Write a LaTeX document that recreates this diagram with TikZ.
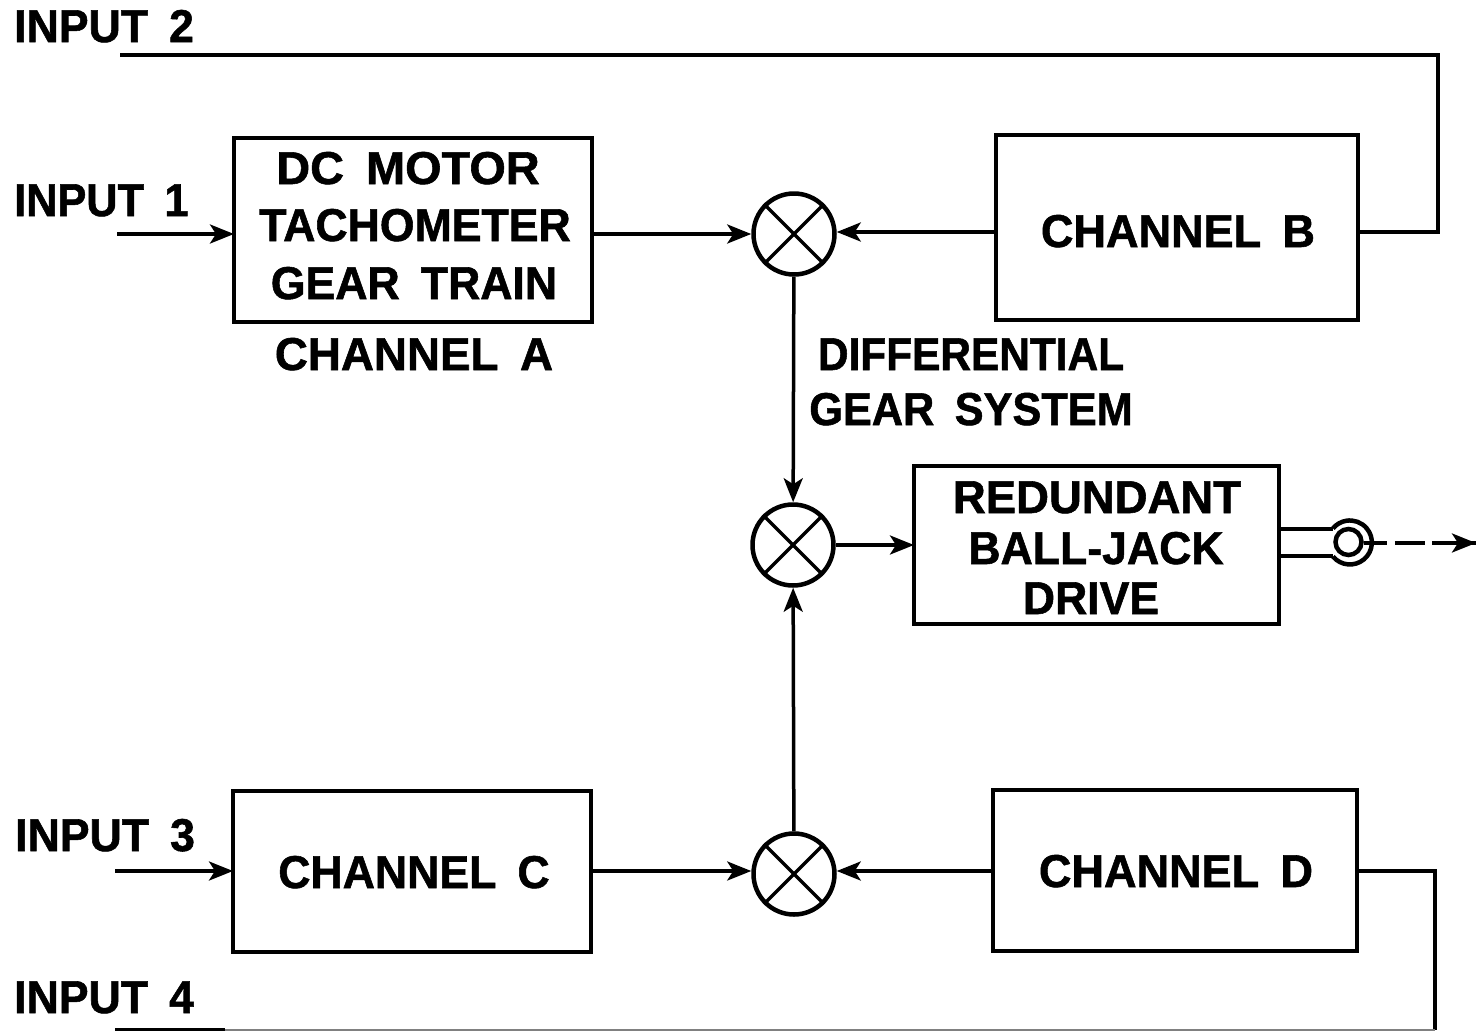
\documentclass[tikz,border=0pt]{standalone}
\usepackage{fontspec}
\setmainfont{Liberation Sans}[BoldFont={Liberation Sans Bold},BoldFeatures={FakeStretch=0.97,WordSpace=1.7,FakeBold=1.2}]
\usetikzlibrary{arrows.meta,positioning}
\tikzset{
  wire/.style={line width=3.5pt,line join=miter},
  flow/.style={wire,-{Stealth[length=24pt,width=19pt,inset=6pt]}},
  blockbox/.style={draw,line width=3.5pt,inner sep=0pt,outer sep=0pt,anchor=north west},
  lbl/.style={inner sep=0pt,anchor=base west,font=\fontsize{46}{46}\selectfont\bfseries},
  boxtext/.style={inner sep=0pt,anchor=base,font=\fontsize{46}{46}\selectfont\bfseries},
  junction/.style={draw,circle,line width=4.5pt,minimum size=81pt,inner sep=0pt},
}
\begin{document}
\begin{tikzpicture}[x=1pt,y=-1pt]
\useasboundingbox (0,0) rectangle (1476,1031);
% boxes
\node[blockbox,minimum width=358pt,minimum height=184pt] (A) at (234,138) {};
\node[blockbox,minimum width=362pt,minimum height=185pt] (B) at (996,135) {};
\node[blockbox,minimum width=358pt,minimum height=161pt] (C) at (233,791) {};
\node[blockbox,minimum width=364pt,minimum height=161pt] (D) at (993,790) {};
\node[blockbox,minimum width=365pt,minimum height=158pt] (R) at (914,466) {};
% texts in boxes
\node[boxtext] (a1) at (408,184) {\scalebox{1.05}[1]{DC MOTOR}};
\node[boxtext] (a2) at (415,241) {TACHOMETER};
\node[boxtext] (a3) at (414,299) {GEAR TRAIN};
\node[boxtext] (a4) at (414,370) {\scalebox{1.025}[1]{CHANNEL A}};
\node[boxtext] (btext) at (1178,247) {\scalebox{1.01}[1]{CHANNEL B}};
\node[boxtext] (ctext) at (414,888) {CHANNEL C};
\node[boxtext] (dtext) at (1176,887) {\scalebox{1.01}[1]{CHANNEL D}};
\node[boxtext] (r1) at (1097,513) {\scalebox{1.02}[1]{REDUNDANT}};
\node[boxtext] (r2) at (1096,564) {BALL-JACK};
\node[boxtext] (r3) at (1091,614) {DRIVE};
\node[boxtext] (g1) at (971,370) {\scalebox{0.95}[1]{DIFFERENTIAL}};
\node[boxtext] (g2) at (971,425) {\scalebox{0.97}[1]{GEAR SYSTEM}};
% input labels
\node[lbl] (i2) at (14,42) {INPUT 2};
\node[lbl] (i1) at (14,216) {\scalebox{0.97}[1]{INPUT 1}};
\node[lbl] (i3) at (15,851) {INPUT 3};
\node[lbl] (i4) at (14,1013) {INPUT 4};
% junctions
\node[junction] (J1) at (794,234) {};
\node[junction] (J2) at (793,545) {};
\node[junction] (J3) at (794,874) {};
\foreach \j in {J1,J2,J3}{
  \draw[wire] (\j.45) -- (\j.225);
  \draw[wire] (\j.135) -- (\j.315);
}
% free ends
\coordinate (s1) at (117,234);
\coordinate (s3) at (115,871);
\coordinate (s2) at (120,55);
\coordinate (s4) at (115,1030);
\coordinate (s4b) at (225,1030);
\coordinate (c2) at (1438,55);
\coordinate (c4) at (1435,1030);
\coordinate (out) at (1476,543);
\coordinate (jb) at (996,232);
\coordinate (jcd) at (591,871);
\coordinate (jd) at (993,871);
% connectors
\draw[flow] (s1) -- (A.west |- s1);
\draw[flow] (s3) -- (C.west |- s3);
\draw[flow] (A.east |- J1) -- (J1);
\draw[flow] (jb) -- (J1.east |- jb);
\draw[flow] (jcd) -- (J3.west |- jcd);
\draw[flow] (jd) -- (J3.east |- jd);
\draw[flow] (J1) -- (J2);
\draw[flow] (J3) -- (J2);
\draw[flow] (J2) -- (R.west |- J2);
\draw[wire] (s2) -- (c2) -- (c2 |- jb) -- (B.east |- jb);
\draw[wire] (D.east |- jd) -- (c4 |- jd) -- (c4);
\draw[wire,line width=1.5pt,gray] (s4b) -- (c4);
\draw[wire] (s4) -- (s4b);
% ball joint
\node[draw,circle,line width=4.5pt,minimum size=26pt,inner sep=0pt] (ball) at (1348.5,542) {};
\draw[line width=4.5pt] (1333,556.6) arc[start angle=-140,end angle=140,radius=22pt];
\coordinate (arm1) at (1333,529);
\coordinate (arm2) at (1333,556);
\draw[wire] (R.east |- arm1) -- (arm1);
\draw[wire] (R.east |- arm2) -- (arm2);
\draw[wire,dash pattern=on 23pt off 8pt on 30pt off 8pt on 60pt] (ball.east |- out) -- (out);
\draw[flow] (1432,543) -- (out);
\end{tikzpicture}
\end{document}
